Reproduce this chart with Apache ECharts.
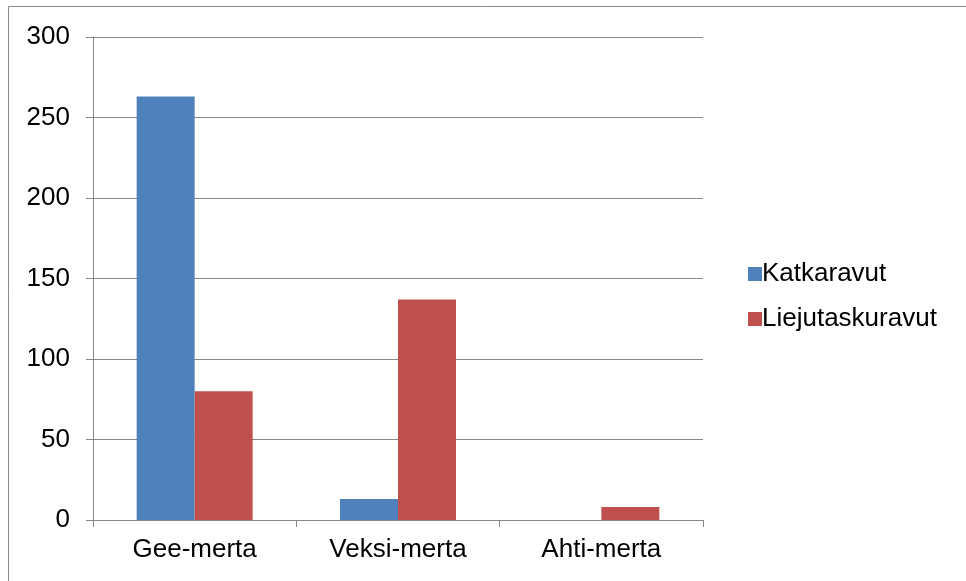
<!DOCTYPE html>
<html lang="fi">
<head>
    <meta charset="UTF-8"/>
    <script src="https://cdn.jsdelivr.net/npm/echarts@6/dist/echarts.min.js"></script>
    <title>Ravut</title>
    <style>
        html, body { margin: 0; padding: 0; background: #fff; }
        #chart { width: 966px; height: 581px; }
    </style>
</head>
<body>
<div id="chart"></div>
<script type="text/javascript">
    var categories = ['Gee-merta', 'Veksi-merta', 'Ahti-merta'];
    var katkaravut = [263, 13, 0];
    var liejutaskuravut = [80, 137, 8];
    var seriesNames = ['Katkaravut', 'Liejutaskuravut'];

    var font = '"Liberation Sans", Arial, sans-serif';
    var gridColor = '#868686';

    var myChart = echarts.init(document.getElementById('chart'));
    var option = {
        backgroundColor: '#fff',
        animation: false,
        graphic: [{
            type: 'rect',
            shape: { x: 8.5, y: 6.5, width: 980, height: 600 },
            style: { fill: 'none', stroke: '#888', lineWidth: 1 },
            silent: true
        }],
        grid: { left: 93, top: 37, right: 263, bottom: 61 },
        legend: {
            orient: 'vertical',
            left: 743,
            top: 256,
            itemWidth: 14,
            itemHeight: 14,
            itemGap: 19,
            icon: 'rect',
            textStyle: { fontFamily: font, fontSize: 26, color: '#000', padding: [0, 0, 0, -5] },
            data: seriesNames
        },
        xAxis: {
            type: 'category',
            data: categories,
            axisLine: { lineStyle: { color: gridColor, width: 1 } },
            axisTick: { show: true, length: 7, lineStyle: { color: gridColor } },
            axisLabel: { fontFamily: font, fontSize: 26, color: '#000', margin: 17 }
        },
        yAxis: {
            type: 'value',
            min: 0,
            max: 300,
            interval: 50,
            axisLine: { show: true, lineStyle: { color: gridColor, width: 1 } },
            axisTick: { show: true, length: 7, lineStyle: { color: gridColor } },
            splitLine: { lineStyle: { color: gridColor, width: 1 } },
            axisLabel: { fontFamily: font, fontSize: 26, color: '#000', margin: 23 }
        },
        series: [
            {
                name: seriesNames[0],
                type: 'bar',
                data: katkaravut,
                barWidth: 58,
                barGap: '0%',
                itemStyle: { color: '#4F81BD' }
            },
            {
                name: seriesNames[1],
                type: 'bar',
                data: liejutaskuravut,
                barWidth: 58,
                barGap: '0%',
                itemStyle: { color: '#C0504D' }
            }
        ]
    };
    myChart.setOption(option);
</script>
</body>
</html>
